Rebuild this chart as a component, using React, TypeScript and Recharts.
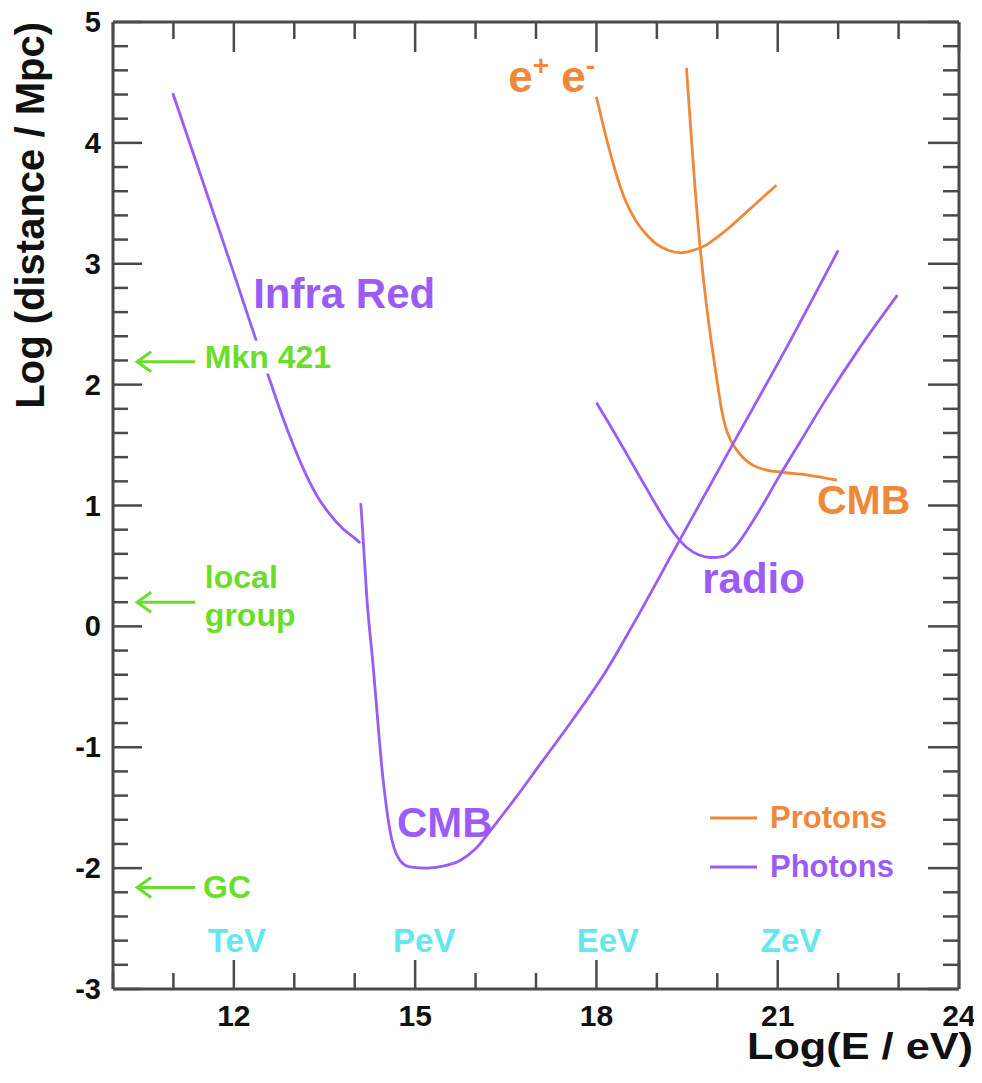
import React from 'react';
import { LineChart, Line, XAxis, YAxis, ReferenceDot, ReferenceLine, Legend, Label } from 'recharts';

const FONT = '"Liberation Sans", Arial, Helvetica, sans-serif';
const PURPLE = '#9a5cf4';
const ORANGE = '#f0883a';
const GREEN = '#6add2a';
const CYAN = '#63e8ee';
const AXIS = '#4a4a4a';
const INK = '#111111';

// Photons: Infra Red background
const photonIR = [
  { e: 10.99, d: 4.41 },
  { e: 11.5, d: 3.66 },
  { e: 12.0, d: 2.92 },
  { e: 12.38, d: 2.35 },
  { e: 12.6, d: 2.03 },
  { e: 12.8, d: 1.74 },
  { e: 13.0, d: 1.48 },
  { e: 13.2, d: 1.25 },
  { e: 13.4, d: 1.06 },
  { e: 13.6, d: 0.92 },
  { e: 13.8, d: 0.81 },
  { e: 14.0, d: 0.73 },
  { e: 14.09, d: 0.69 },
];

// Photons: CMB
const photonCMB = [
  { e: 14.1, d: 1.02 },
  { e: 14.13, d: 0.8 },
  { e: 14.2, d: 0.24 },
  { e: 14.3, d: -0.3 },
  { e: 14.47, d: -1.27 },
  { e: 14.58, d: -1.68 },
  { e: 14.74, d: -1.93 },
  { e: 14.91, d: -1.99 },
  { e: 15.2, d: -2.0 },
  { e: 15.5, d: -1.98 },
  { e: 15.75, d: -1.935 },
  { e: 16.0, d: -1.84 },
  { e: 16.29, d: -1.66 },
  { e: 16.69, d: -1.4 },
  { e: 17.07, d: -1.14 },
  { e: 17.61, d: -0.77 },
  { e: 18.17, d: -0.36 },
  { e: 18.6, d: 0.01 },
  { e: 19.33, d: 0.67 },
  { e: 20.26, d: 1.51 },
  { e: 21.15, d: 2.31 },
  { e: 22.0, d: 3.11 },
];

// Photons: radio background
const photonRadio = [
  { e: 18.0, d: 1.85 },
  { e: 18.3, d: 1.6 },
  { e: 18.6, d: 1.34 },
  { e: 18.9, d: 1.08 },
  { e: 19.1, d: 0.91 },
  { e: 19.3, d: 0.76 },
  { e: 19.5, d: 0.65 },
  { e: 19.7, d: 0.59 },
  { e: 19.9, d: 0.57 },
  { e: 20.1, d: 0.58 },
  { e: 20.3, d: 0.66 },
  { e: 20.5, d: 0.8 },
  { e: 20.7, d: 0.96 },
  { e: 21.0, d: 1.22 },
  { e: 21.4, d: 1.55 },
  { e: 21.8, d: 1.88 },
  { e: 22.35, d: 2.3 },
  { e: 22.98, d: 2.74 },
];

// Protons: e+ e- pair production
const protonPair = [
  { e: 18.0, d: 4.38 },
  { e: 18.1, d: 4.17 },
  { e: 18.2, d: 3.97 },
  { e: 18.3, d: 3.79 },
  { e: 18.4, d: 3.63 },
  { e: 18.5, d: 3.5 },
  { e: 18.6, d: 3.4 },
  { e: 18.7, d: 3.32 },
  { e: 18.85, d: 3.23 },
  { e: 19.0, d: 3.16 },
  { e: 19.2, d: 3.11 },
  { e: 19.4, d: 3.09 },
  { e: 19.6, d: 3.11 },
  { e: 19.8, d: 3.15 },
  { e: 20.0, d: 3.22 },
  { e: 20.2, d: 3.3 },
  { e: 20.4, d: 3.39 },
  { e: 20.6, d: 3.48 },
  { e: 20.8, d: 3.57 },
  { e: 20.98, d: 3.65 },
];

// Protons: CMB (pion production)
const protonCMB = [
  { e: 19.49, d: 4.62 },
  { e: 19.7, d: 3.22 },
  { e: 19.83, d: 2.62 },
  { e: 19.94, d: 2.22 },
  { e: 20.02, d: 1.95 },
  { e: 20.08, d: 1.77 },
  { e: 20.14, d: 1.645 },
  { e: 20.22, d: 1.54 },
  { e: 20.32, d: 1.46 },
  { e: 20.45, d: 1.385 },
  { e: 20.6, d: 1.33 },
  { e: 20.8, d: 1.295 },
  { e: 21.07, d: 1.275 },
  { e: 21.52, d: 1.25 },
  { e: 21.98, d: 1.21 },
];

const xTicks = [10, 11, 12, 13, 14, 15, 16, 17, 18, 19, 20, 21, 22, 23, 24];
const yMajor = [-3, -2, -1, 0, 1, 2, 3, 4, 5];
const yTicks = Array.from({ length: 41 }, (_, i) => Math.round((-3 + i * 0.2) * 10) / 10);

const curveLabels = [
  { text: 'Infra Red', e: 12.32, d: 2.63, color: PURPLE, size: 42 },
  { text: 'CMB', e: 14.7, d: -1.74, color: PURPLE, size: 42 },
  { text: 'radio', e: 19.75, d: 0.28, color: PURPLE, size: 42 },
  { text: 'CMB', e: 21.65, d: 0.93, color: ORANGE, size: 41 },
];

const sourceLabels = [
  { text: 'Mkn 421', e: 11.52, d: 2.14, box: true },
  { text: 'local', e: 11.52, d: 0.32, box: false },
  { text: 'group', e: 11.52, d: 0.0, box: false },
  { text: 'GC', e: 11.49, d: -2.25, box: false },
];

const sourceArrows = [
  { tip: 10.4, tail: 11.36, d: 2.19 },
  { tip: 10.4, tail: 11.36, d: 0.2 },
  { tip: 10.4, tail: 11.36, d: -2.16 },
];

const energyLabels = [
  { text: 'TeV', e: 12.05 },
  { text: 'PeV', e: 15.15 },
  { text: 'EeV', e: 18.19 },
  { text: 'ZeV', e: 21.22 },
];
const energyLabelD = -2.69;

const legendOrder = ['Protons', 'Photons'];

const isMajorY = (v: number) => Math.abs(v - Math.round(v)) < 1e-6;

const renderBottomTick = (props: any) => {
  const { x, y, payload } = props;
  const v = payload.value;
  const major = v % 3 === 0;
  return (
    <g>
      <line x1={x} x2={x} y1={y} y2={y - (major ? 29 : 16)} stroke={AXIS} strokeWidth={2.5} />
      {major && (
        <text x={x} y={y + 37} textAnchor="middle" fontFamily={FONT} fontWeight="bold" fontSize={30} fill={INK}>
          {v}
        </text>
      )}
    </g>
  );
};

const renderTopTick = (props: any) => {
  const { x, y, payload } = props;
  const major = payload.value % 3 === 0;
  return <line x1={x} x2={x} y1={y} y2={y + (major ? 30 : 17)} stroke={AXIS} strokeWidth={2.5} />;
};

const renderLeftTick = (props: any) => {
  const { x, y, payload } = props;
  const v = payload.value;
  const major = isMajorY(v);
  return (
    <g>
      <line x1={x} x2={x + (major ? 29 : 15)} y1={y} y2={y} stroke={AXIS} strokeWidth={2.5} />
      {major && yMajor.includes(Math.round(v)) && (
        <text x={x - 12} y={y + 10} textAnchor="end" fontFamily={FONT} fontWeight="bold" fontSize={29} fill={INK}>
          {Math.round(v)}
        </text>
      )}
    </g>
  );
};

const renderRightTick = (props: any) => {
  const { x, y, payload } = props;
  const major = isMajorY(payload.value);
  return <line x1={x} x2={x - (major ? 31 : 16)} y1={y} y2={y} stroke={AXIS} strokeWidth={2.5} />;
};

const renderXTitle = (props: any) => {
  const vb = props.viewBox || {};
  return (
    <text
      x={vb.x + vb.width + 14}
      y={vb.y + 70}
      textAnchor="end"
      fontFamily={FONT}
      fontWeight="bold"
      fontSize={37}
      textLength={226}
      lengthAdjust="spacingAndGlyphs"
      fill={INK}
    >
      Log(E / eV)
    </text>
  );
};

const renderYTitle = (props: any) => {
  const vb = props.viewBox || {};
  const x = vb.x + 44;
  const y = vb.y;
  return (
    <text x={x} y={y} transform={`rotate(-90, ${x}, ${y})`} textAnchor="end" fontFamily={FONT} fontWeight="bold" fontSize={40} fill={INK}>
      Log (distance / Mpc)
    </text>
  );
};

const renderLegend = (props: any) => {
  const payload = (props.payload || [])
    .filter((p: any) => legendOrder.includes(p.value))
    .sort((a: any, b: any) => legendOrder.indexOf(a.value) - legendOrder.indexOf(b.value));
  return (
    <div style={{ fontFamily: FONT, fontWeight: 'bold', fontSize: 31 }}>
      {payload.map((p: any) => (
        <div key={p.value} style={{ display: 'flex', alignItems: 'center', height: 49 }}>
          <svg width={47} height={6} style={{ display: 'block' }}>
            <line x1={0} x2={47} y1={3} y2={3} stroke={p.color} strokeWidth={3} />
          </svg>
          <span style={{ color: p.color, marginLeft: 13, lineHeight: '49px' }}>{p.value}</span>
        </div>
      ))}
    </div>
  );
};

export default function App() {
  return (
    <div style={{ width: 982, height: 1075, marginTop: -8, marginLeft: -8, background: '#fff' }}>
      <LineChart width={982} height={1075} margin={{ top: 0, right: 0, bottom: 0, left: 0 }}>
        <XAxis
          dataKey="e"
          type="number"
          domain={[10, 24]}
          allowDataOverflow
          ticks={xTicks}
          interval={0}
          height={86}
          tickSize={0}
          tickMargin={0}
          tick={renderBottomTick}
          axisLine={{ stroke: AXIS, strokeWidth: 3 }}
        >
          <Label content={renderXTitle} />
        </XAxis>
        <XAxis
          xAxisId="top"
          orientation="top"
          dataKey="e"
          type="number"
          domain={[10, 24]}
          allowDataOverflow
          ticks={xTicks}
          interval={0}
          height={22}
          tickSize={0}
          tickMargin={0}
          tick={renderTopTick}
          axisLine={{ stroke: AXIS, strokeWidth: 3 }}
        />
        <YAxis
          type="number"
          domain={[-3, 5]}
          allowDataOverflow
          ticks={yTicks}
          interval={0}
          width={113}
          tickSize={0}
          tickMargin={0}
          tick={renderLeftTick}
          axisLine={{ stroke: AXIS, strokeWidth: 3 }}
        >
          <Label content={renderYTitle} />
        </YAxis>
        <YAxis
          yAxisId="right"
          orientation="right"
          type="number"
          domain={[-3, 5]}
          allowDataOverflow
          ticks={yTicks}
          interval={0}
          width={23}
          tickSize={0}
          tickMargin={0}
          tick={renderRightTick}
          axisLine={{ stroke: AXIS, strokeWidth: 3 }}
        />

        <Line data={protonCMB} dataKey="d" name="Protons" type="monotone" stroke={ORANGE} strokeWidth={2.8} dot={false} isAnimationActive={false} />
        <Line data={protonPair} dataKey="d" name="Protons e+e-" legendType="none" type="monotone" stroke={ORANGE} strokeWidth={2.8} dot={false} isAnimationActive={false} />
        <Line data={photonIR} dataKey="d" name="Photons" type="monotone" stroke={PURPLE} strokeWidth={2.8} dot={false} isAnimationActive={false} />
        <Line data={photonCMB} dataKey="d" name="Photons CMB" legendType="none" type="monotone" stroke={PURPLE} strokeWidth={2.8} dot={false} isAnimationActive={false} />
        <Line data={photonRadio} dataKey="d" name="Photons radio" legendType="none" type="monotone" stroke={PURPLE} strokeWidth={2.8} dot={false} isAnimationActive={false} />

        {sourceArrows.map((a, i) => (
          <ReferenceLine
            key={`shaft-${i}`}
            segment={[{ x: a.tip, y: a.d }, { x: a.tail, y: a.d }]}
            stroke={GREEN}
            strokeWidth={3}
          />
        ))}
        {sourceArrows.map((a, i) => (
          <ReferenceDot
            key={`head-${i}`}
            x={a.tip}
            y={a.d}
            r={0}
            shape={(p: any) => (
              <path d={`M ${p.cx + 14} ${p.cy - 10} L ${p.cx} ${p.cy} L ${p.cx + 14} ${p.cy + 10}`} fill="none" stroke={GREEN} strokeWidth={3} />
            )}
          />
        ))}

        {sourceLabels.map((s, i) => (
          <ReferenceDot
            key={`src-${i}`}
            x={s.e}
            y={s.d}
            r={0}
            shape={(p: any) => (
              <g>
                {s.box && <rect x={p.cx - 3} y={p.cy - 27} width={132} height={33} fill="#ffffff" />}
                <text x={p.cx} y={p.cy} fontFamily={FONT} fontWeight="bold" fontSize={32} fill={GREEN}>
                  {s.text}
                </text>
              </g>
            )}
          />
        ))}

        {curveLabels.map((c, i) => (
          <ReferenceDot
            key={`cl-${i}`}
            x={c.e}
            y={c.d}
            r={0}
            shape={(p: any) => (
              <text x={p.cx} y={p.cy} fontFamily={FONT} fontWeight="bold" fontSize={c.size} fill={c.color}>
                {c.text}
              </text>
            )}
          />
        ))}

        <ReferenceDot
          x={16.54}
          y={4.42}
          r={0}
          shape={(p: any) => (
            <text x={p.cx} y={p.cy} fontFamily={FONT} fontWeight="bold" fontSize={44} fill={ORANGE}>
              <tspan>e</tspan>
              <tspan fontSize={28} dy={-17}>+</tspan>
              <tspan dy={17}> e</tspan>
              <tspan fontSize={28} dy={-17}>-</tspan>
            </text>
          )}
        />

        {energyLabels.map((l, i) => (
          <ReferenceDot
            key={`en-${i}`}
            x={l.e}
            y={energyLabelD}
            r={0}
            shape={(p: any) => (
              <text x={p.cx} y={p.cy} textAnchor="middle" fontFamily={FONT} fontWeight="bold" fontSize={33} fill={CYAN}>
                {l.text}
              </text>
            )}
          />
        ))}

        <Legend
          layout="horizontal"
          verticalAlign="middle"
          align="center"
          content={renderLegend}
          wrapperStyle={{ left: 710, top: 793, width: 230, height: 98 }}
        />
      </LineChart>
    </div>
  );
}
